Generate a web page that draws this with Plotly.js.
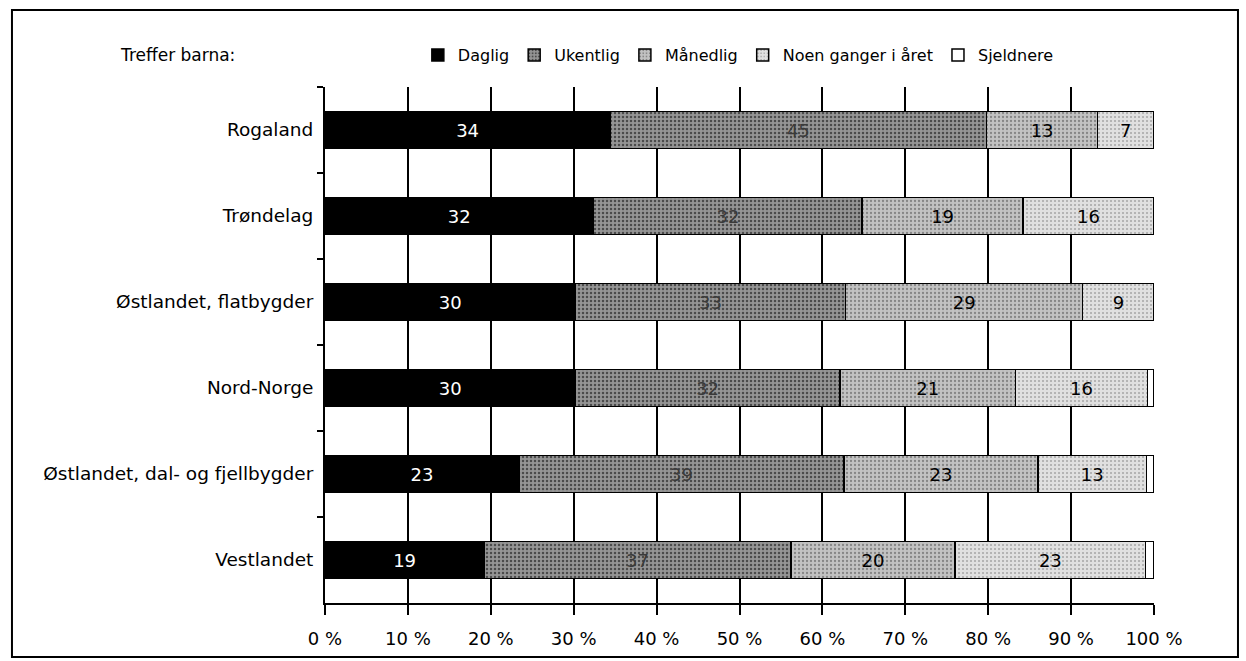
<!DOCTYPE html>
<html>
<head>
<meta charset="utf-8">
<script src="https://cdn.plot.ly/plotly-3.0.1.min.js"></script>
<style>
  html, body { margin: 0; padding: 0; background: #ffffff; }
  #chart { width: 1246px; height: 661px; }
</style>
</head>
<body>
<div id="chart"></div>
<script>
// Categories (top to bottom)
const categories = ['Rogaland', 'Trøndelag', 'Østlandet, flatbygder', 'Nord-Norge', 'Østlandet, dal- og fjellbygder', 'Vestlandet'];
// Series values (percent)
const daglig     = [34.4, 32.4, 30.2, 30.2, 23.4, 19.2];
const ukentlig   = [45.4, 32.4, 32.6, 31.9, 39.2, 37.0];
const maanedlig  = [13.4, 19.4, 28.6, 21.2, 23.4, 19.8];
const noenGanger = [6.8, 15.8, 8.6, 15.9, 13.1, 23.0];
const sjeldnere  = [0, 0, 0, 0.8, 0.9, 1.0];
const seriesNames = ['Daglig', 'Ukentlig', 'Månedlig', 'Noen ganger i året', 'Sjeldnere'];
const xTickVals = [0, 10, 20, 30, 40, 50, 60, 70, 80, 90, 100];
const legendLead = 'Treffer barna:';

const FONT = 'DejaVu Sans, Open Sans, sans-serif';

function bar(name, values, fill, textColor, showText) {
  return {
    type: 'bar',
    orientation: 'h',
    name: name,
    y: categories,
    x: values,
    marker: {
      color: fill.bg,
      line: { color: '#000000', width: 1.5 },
      pattern: fill.shape ? { shape: fill.shape, fgcolor: fill.fg, bgcolor: fill.bg, size: fill.size, solidity: fill.solidity } : undefined
    },
    texttemplate: showText ? '%{x:.0f}' : '',
    textposition: showText ? 'inside' : 'none',
    insidetextanchor: 'middle',
    textangle: 0,
    constraintext: 'none',
    insidetextfont: { family: FONT, size: 18, color: textColor },
    hoverinfo: 'x+y+name'
  };
}

const data = [
  bar(seriesNames[0], daglig,     { bg: '#000000' }, '#ffffff', true),
  bar(seriesNames[1], ukentlig,   { bg: '#959595', fg: '#4a4a4a', shape: '.', size: 4, solidity: 0.3 }, '#3a3a3a', true),
  bar(seriesNames[2], maanedlig,  { bg: '#c2c2c2', fg: '#858585', shape: '.', size: 4, solidity: 0.25 }, '#000000', true),
  bar(seriesNames[3], noenGanger, { bg: '#e0e0e0', fg: '#a5a5a5', shape: '.', size: 4, solidity: 0.2 }, '#000000', true),
  bar(seriesNames[4], sjeldnere,  { bg: '#ffffff' }, '#000000', false)
];

const layout = {
  width: 1246,
  height: 661,
  margin: { l: 325, r: 92, t: 87, b: 58 },
  paper_bgcolor: '#ffffff',
  plot_bgcolor: '#ffffff',
  barmode: 'stack',
  bargap: 0.57,
  font: { family: FONT, size: 18, color: '#000000' },
  showlegend: true,
  legend: {
    orientation: 'h',
    x: 0.112, xanchor: 'left',
    y: 1.062, yanchor: 'middle',
    font: { family: FONT, size: 16, color: '#000000' },
    traceorder: 'normal',
    bgcolor: 'rgba(0,0,0,0)'
  },
  xaxis: {
    range: [0, 100],
    tickvals: xTickVals,
    ticktext: xTickVals.map(v => v + ' %'),
    showgrid: true,
    gridcolor: '#000000',
    gridwidth: 2,
    zeroline: false,
    showline: true,
    linecolor: '#000000',
    linewidth: 2,
    ticks: 'outside',
    ticklen: 10,
    tickwidth: 2,
    tickcolor: '#000000',
    ticklabelstandoff: 8,
    tickfont: { family: FONT, size: 18, color: '#000000' },
    fixedrange: true
  },
  yaxis: {
    type: 'category',
    autorange: 'reversed',
    showgrid: false,
    zeroline: false,
    showline: true,
    linecolor: '#000000',
    linewidth: 2,
    ticks: 'outside',
    tickson: 'boundaries',
    ticklen: 6,
    tickwidth: 2,
    tickcolor: '#000000',
    ticklabelstandoff: 6,
    tickfont: { family: FONT, size: 18.5, color: '#000000' },
    fixedrange: true
  },
  annotations: [{
    text: legendLead,
    xref: 'paper', yref: 'paper',
    x: -0.2497, y: 1.062,
    xanchor: 'left', yanchor: 'middle',
    showarrow: false,
    font: { family: FONT, size: 17, color: '#000000' }
  }],
  shapes: [{
    type: 'rect',
    xref: 'paper', yref: 'paper',
    x0: -0.3776, x1: 1.1013,
    y0: -0.1047, y1: 1.149,
    line: { color: '#000000', width: 2 },
    fillcolor: 'rgba(0,0,0,0)',
    layer: 'below'
  }]
};

Plotly.newPlot('chart', data, layout, { displayModeBar: false, staticPlot: true });
</script>
</body>
</html>
